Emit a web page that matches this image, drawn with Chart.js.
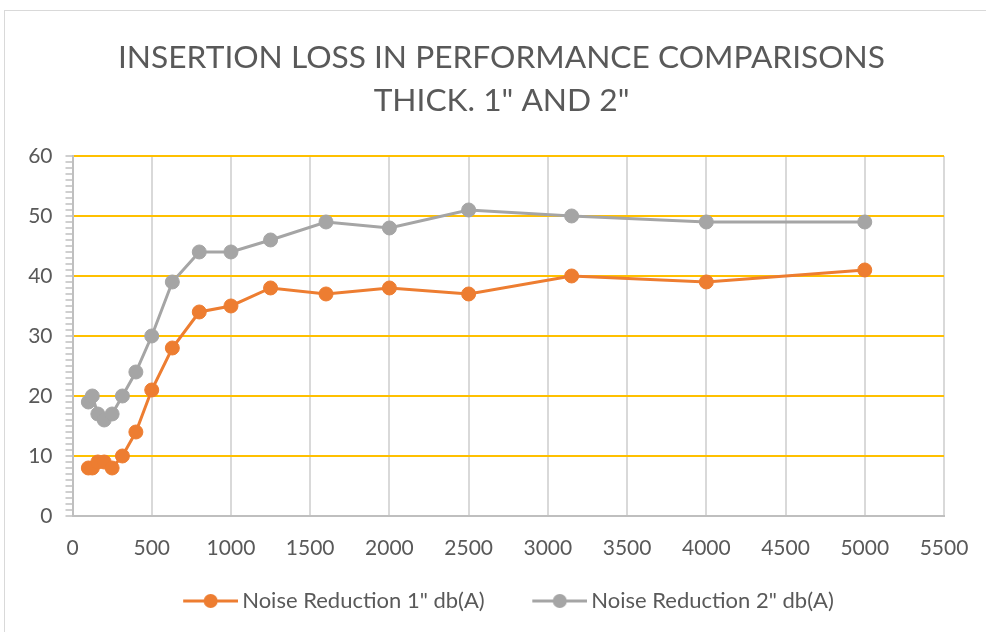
<!DOCTYPE html>
<html>
<head>
<meta charset="utf-8">
<script src="https://cdn.jsdelivr.net/npm/chart.js@4/dist/chart.umd.min.js"></script>
<style>
  html, body { margin: 0; padding: 0; background: #fff; overflow: hidden; }
  #moldura { position: absolute; left: 4px; top: 10px; width: 1010px; height: 700px; border: 1.5px solid #d9d9d9; }
  #area { position: absolute; left: 0; top: 0; width: 986px; height: 632px; }
</style>
</head>
<body>
<div id="moldura"></div>
<div id="area"><canvas id="graficoRuido" width="986" height="632"></canvas></div>
<script>
// Dados (frequência x redução de ruído)
const frequencias = [100, 125, 160, 200, 250, 315, 400, 500, 630, 800, 1000, 1250, 1600, 2000, 2500, 3150, 4000, 5000];
const reducao1pol = [8, 8, 9, 9, 8, 10, 14, 21, 28, 34, 35, 38, 37, 38, 37, 40, 39, 41];
const reducao2pol = [19, 20, 17, 16, 17, 20, 24, 30, 39, 44, 44, 46, 49, 48, 51, 50, 49, 49];
const nomesSeries = ['Noise Reduction 1" db(A)', 'Noise Reduction 2" db(A)'];
const linhasTitulo = ["INSERTION LOSS IN PERFORMANCE COMPARISONS", 'THICK. 1" AND 2"'];
const eixoX = { min: 0, max: 5500, passo: 500 };
const eixoY = { min: 0, max: 60, passo: 10 };

const corLaranja = "#ed7d31";
const corCinza = "#a5a5a5";
const corTexto = "#595959";
const fonte = "Lato, 'Noto Sans', sans-serif";

function montarPontos(valores) {
  return frequencias.map((f, i) => ({ x: f, y: valores[i] }));
}

// Marcador da legenda: linha com bolinha no meio (parte esquerda transparente = espaço entre itens)
function marcadorLegenda(cor) {
  const c = document.createElement("canvas");
  c.width = 76;
  c.height = 18;
  const ctx = c.getContext("2d");
  ctx.strokeStyle = cor;
  ctx.lineWidth = 3;
  ctx.beginPath();
  ctx.moveTo(21, 9);
  ctx.lineTo(76, 9);
  ctx.stroke();
  ctx.fillStyle = cor;
  ctx.beginPath();
  ctx.arc(48.5, 9, 7, 0, Math.PI * 2);
  ctx.fill();
  return c;
}
const marcadores = [marcadorLegenda(corLaranja), marcadorLegenda(corCinza)];

const elemento = document.getElementById("graficoRuido");

const grafico = new Chart(elemento, {
  type: "line",
  data: {
    datasets: [
      {
        label: nomesSeries[0],
        data: montarPontos(reducao1pol),
        borderColor: corLaranja,
        backgroundColor: corLaranja,
        pointBackgroundColor: corLaranja,
        pointBorderColor: corLaranja,
        borderWidth: 3,
        pointRadius: 7,
        pointBorderWidth: 1,
      },
      {
        label: nomesSeries[1],
        data: montarPontos(reducao2pol),
        borderColor: corCinza,
        backgroundColor: corCinza,
        pointBackgroundColor: corCinza,
        pointBorderColor: corCinza,
        borderWidth: 3,
        pointRadius: 7,
        pointBorderWidth: 1,
      },
    ],
  },
  options: {
    responsive: false,
    animation: false,
    layout: { padding: { left: 17, right: 0, top: 0, bottom: 10 } },
    plugins: {
      tooltip: { enabled: false },
      title: {
        display: true,
        text: linhasTitulo,
        color: corTexto,
        font: { family: fonte, size: 31.7, weight: "normal", lineHeight: 1.356 },
        padding: { top: 36, bottom: 34 },
      },
      legend: {
        position: "bottom",
        labels: {
          color: corTexto,
          font: { family: fonte, size: 22 },
          usePointStyle: true,
          pointStyleWidth: 62,
          padding: 33.6,
          generateLabels: (chart) =>
            Chart.defaults.plugins.legend.labels
              .generateLabels(chart)
              .map((item, i) => ({ ...item, pointStyle: marcadores[i] })),
        },
      },
    },
    scales: {
      x: {
        type: "linear",
        min: eixoX.min,
        max: eixoX.max,
        afterFit: (escala) => {
          escala.paddingRight = 42;
          escala.height = 40.4;
        },
        ticks: {
          stepSize: eixoX.passo,
          color: corTexto,
          font: { family: fonte, size: 21, lineHeight: 0.8 },
          padding: 23.6,
          maxRotation: 0,
          autoSkip: false,
          callback: (v) => String(v),
        },
        grid: { color: "#d9d9d9", lineWidth: 2, drawTicks: false },
        border: { color: "#bfbfbf", width: 2 },
      },
      y: {
        min: eixoY.min,
        max: eixoY.max,
        afterFit: (escala) => {
          escala.width = 55.5;
        },
        ticks: {
          stepSize: 1,
          maxTicksLimit: 100,
          autoSkip: false,
          color: corTexto,
          font: { family: fonte, size: 21 },
          padding: 13,
          callback: (v) => (v % eixoY.passo === 0 ? v : ""),
        },
        grid: {
          lineWidth: 2,
          tickLength: 7,
          tickWidth: 1.5,
          tickColor: "#bfbfbf",
          color: (ctx) => {
            const v = ctx.tick.value;
            if (v % eixoY.passo !== 0) return "rgba(0,0,0,0)";
            return v === 0 ? "#bfbfbf" : "#ffc000";
          },
        },
        border: { color: "#bfbfbf", width: 2 },
      },
    },
  },
});
</script>
</body>
</html>
